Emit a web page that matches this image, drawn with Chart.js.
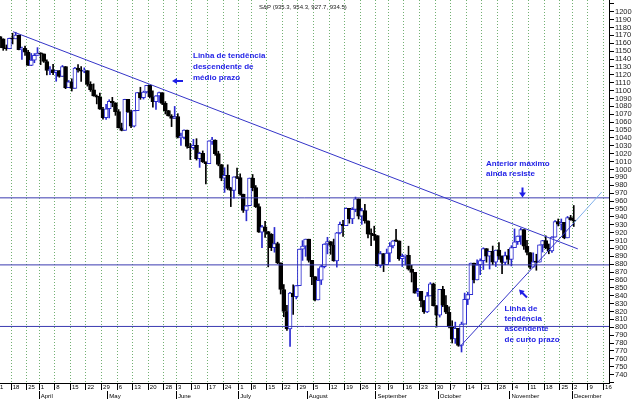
<!DOCTYPE html>
<html><head><meta charset="utf-8">
<script src="https://cdn.jsdelivr.net/npm/chart.js@4.4.1/dist/chart.umd.min.js"></script>
<style>html,body{margin:0;padding:0;background:#fff;}canvas{display:block;}</style>
</head><body>
<canvas id="c" width="634" height="399"></canvas>
<script>
// ---- DATA (S&P 500, daily, 2002) ----
const YEAR = 2002;
const days = [
'03-11','03-12','03-13','03-14','03-15','03-18','03-19','03-20','03-21','03-22','03-25','03-26','03-27','03-28',
'04-01','04-02','04-03','04-04','04-05','04-08','04-09','04-10','04-11','04-12','04-15','04-16','04-17','04-18','04-19','04-22','04-23','04-24','04-25','04-26','04-29','04-30',
'05-01','05-02','05-03','05-06','05-07','05-08','05-09','05-10','05-13','05-14','05-15','05-16','05-17','05-20','05-21','05-22','05-23','05-24','05-28','05-29','05-30','05-31',
'06-03','06-04','06-05','06-06','06-07','06-10','06-11','06-12','06-13','06-14','06-17','06-18','06-19','06-20','06-21','06-24','06-25','06-26','06-27','06-28',
'07-01','07-02','07-03','07-05','07-08','07-09','07-10','07-11','07-12','07-15','07-16','07-17','07-18','07-19','07-22','07-23','07-24','07-25','07-26','07-29','07-30','07-31',
'08-01','08-02','08-05','08-06','08-07','08-08','08-09','08-12','08-13','08-14','08-15','08-16','08-19','08-20','08-21','08-22','08-23','08-26','08-27','08-28','08-29','08-30',
'09-03','09-04','09-05','09-06','09-09','09-10','09-11','09-12','09-13','09-16','09-17','09-18','09-19','09-20','09-23','09-24','09-25','09-26','09-27','09-30',
'10-01','10-02','10-03','10-04','10-07','10-08','10-09','10-10','10-11','10-14','10-15','10-16','10-17','10-18','10-21','10-22','10-23','10-24','10-25','10-28','10-29','10-30','10-31',
'11-01','11-04','11-05','11-06','11-07','11-08','11-11','11-12','11-13','11-14','11-15','11-18','11-19','11-20','11-21','11-22','11-25','11-26','11-27','11-29',
'12-02'];

const open = [
1164.3,1168.3,1165.6,1154.1,1153.0,1166.2,1165.6,1170.3,1151.9,1153.6,1148.7,1131.9,1138.5,1144.6,
1147.4,1146.5,1136.8,1125.4,1126.3,1122.7,1125.3,1117.8,1130.5,1103.7,1111.0,1102.6,1128.4,1126.1,1124.5,1125.2,1107.8,1101.0,1093.1,1091.5,1076.3,1065.5,
1076.9,1086.5,1084.6,1073.4,1052.7,1049.5,1088.9,1073.0,1055.0,1074.6,1097.3,1091.1,1098.2,1106.6,1091.9,1086.0,1093.3,1097.3,1083.8,1074.6,1067.7,1064.7,
1067.1,1040.7,1040.7,1049.9,1029.1,1027.5,1030.7,1013.6,1020.3,1009.6,1007.3,1036.2,1037.1,1020.0,1006.3,989.1,992.7,976.1,973.5,990.6,
989.8,968.7,948.1,954.0,989.0,977.0,952.8,920.5,927.4,921.4,917.9,900.9,906.0,881.6,847.8,819.9,797.7,843.4,838.7,852.8,899.0,902.8,
911.6,884.7,864.2,834.6,859.6,876.8,905.5,908.6,903.8,884.2,919.6,930.3,928.8,950.7,937.4,949.4,962.7,940.9,948.0,934.8,917.9,917.8,
916.1,878.0,893.4,879.2,893.9,903.0,909.6,909.4,886.9,889.8,891.1,873.5,869.5,843.3,845.4,833.7,819.3,839.7,855.0,827.4,
815.3,847.9,827.9,819.0,800.6,785.3,798.6,776.8,803.9,835.3,841.4,881.3,860.0,879.2,884.4,899.7,890.2,896.1,882.5,897.7,890.2,882.2,890.7,
885.8,901.0,908.4,915.4,923.8,902.7,894.7,876.2,883.0,882.5,904.3,909.8,900.4,896.7,914.2,933.8,930.6,932.9,913.3,938.9,
935.3];

const high = [
1173.0,1168.3,1165.6,1157.8,1166.5,1172.7,1173.9,1170.3,1155.1,1156.5,1151.0,1147.0,1146.9,1154.4,
1148.0,1146.5,1138.9,1130.5,1133.3,1125.4,1125.3,1131.8,1130.5,1112.8,1114.9,1129.4,1133.0,1130.5,1128.8,1125.2,1111.2,1108.5,1094.4,1096.8,1078.9,1082.6,
1088.4,1091.4,1084.6,1075.9,1058.7,1089.0,1088.9,1075.4,1074.8,1097.7,1104.2,1099.3,1106.7,1106.6,1099.6,1093.6,1098.0,1097.3,1086.0,1074.8,1069.5,1079.9,
1070.7,1046.1,1050.1,1049.9,1033.0,1038.2,1039.0,1021.9,1023.5,1009.6,1036.3,1040.8,1037.6,1023.1,1006.3,1002.1,1005.9,977.4,990.7,1001.8,
994.5,968.7,954.3,989.1,993.6,979.6,956.3,929.2,934.3,921.4,918.7,926.5,907.8,881.6,854.1,827.7,844.3,853.8,852.9,899.1,909.8,911.7,
911.6,884.7,864.2,874.4,878.7,905.8,914.0,908.6,911.7,920.2,933.3,935.4,951.2,950.7,951.6,965.0,962.7,950.8,955.8,934.8,924.6,928.1,
916.1,896.1,893.4,899.1,907.3,909.9,924.0,909.4,892.8,891.8,902.7,878.5,869.5,849.3,845.4,833.7,844.2,856.6,856.0,827.4,
848.0,851.9,840.0,825.9,808.2,806.5,798.6,806.5,843.3,844.4,881.4,881.3,885.4,886.7,900.7,899.7,896.2,902.9,897.8,907.4,890.6,895.3,898.8,
903.4,924.6,915.8,925.7,923.8,910.1,894.7,894.3,892.5,904.4,910.1,915.9,905.5,915.0,935.1,937.2,937.2,932.9,940.4,941.8,
954.3];

const low = [
1159.6,1154.3,1151.0,1151.0,1153.0,1159.1,1165.6,1151.6,1139.5,1144.6,1131.8,1131.6,1135.3,1144.6,
1132.9,1135.7,1119.7,1120.1,1120.1,1111.8,1116.9,1117.8,1102.4,1103.7,1099.4,1102.6,1123.4,1111.6,1122.6,1105.6,1098.9,1092.8,1083.1,1076.2,1063.6,1063.5,
1065.3,1079.5,1068.6,1052.6,1048.9,1049.5,1072.2,1053.0,1053.9,1074.6,1088.9,1089.2,1096.8,1090.6,1079.1,1076.0,1085.1,1082.2,1070.3,1067.6,1054.3,1064.7,
1039.9,1030.5,1038.8,1026.9,1012.5,1025.5,1011.9,1002.6,1008.8,981.6,1007.3,1031.7,1017.9,1004.6,985.7,970.9,974.2,952.9,963.7,988.3,
967.4,945.5,934.9,954.0,972.9,951.7,920.3,900.9,913.7,876.5,897.1,895.1,880.6,842.1,813.3,796.1,775.7,816.1,835.9,852.8,884.7,889.9,
882.5,853.9,833.4,834.6,854.1,875.2,893.0,892.4,883.6,876.2,918.2,915.0,928.8,931.9,931.3,946.4,937.2,930.4,931.9,913.2,903.3,910.2,
877.5,875.7,870.5,879.2,882.9,900.5,908.5,884.8,877.0,878.9,872.4,857.4,843.1,839.1,825.8,817.4,818.5,839.7,826.8,800.2,
812.8,826.1,817.3,799.2,780.0,779.5,775.8,768.6,803.9,828.7,841.4,856.3,860.0,866.6,873.1,882.4,873.8,879.2,877.0,886.1,867.9,879.2,879.8,
877.7,901.0,904.9,905.0,898.7,891.6,874.0,876.2,872.2,882.5,895.3,899.5,893.1,894.9,914.2,928.4,923.3,912.1,913.3,935.6,
927.7];

const close = [
1168.3,1165.6,1154.1,1153.0,1166.2,1165.6,1170.3,1151.9,1153.6,1148.7,1131.9,1138.5,1144.6,1147.4,
1146.5,1136.8,1125.4,1126.3,1122.7,1125.3,1117.8,1130.5,1103.7,1111.0,1102.6,1128.4,1126.1,1124.5,1125.2,1107.8,1101.0,1093.1,1091.5,1076.3,1065.5,1076.9,
1086.5,1084.6,1073.4,1052.7,1049.5,1088.9,1073.0,1055.0,1074.6,1097.3,1091.1,1098.2,1106.6,1091.9,1086.0,1093.3,1097.3,1083.8,1074.6,1067.7,1064.7,1067.1,
1040.7,1040.7,1049.9,1029.1,1027.5,1030.7,1013.6,1020.3,1009.6,1007.3,1036.2,1037.1,1020.0,1006.3,989.1,992.7,976.1,973.5,990.6,989.8,
968.7,948.1,954.0,989.0,977.0,952.8,920.5,927.4,921.4,917.9,900.9,906.0,881.6,847.8,819.9,797.7,843.4,838.7,852.8,899.0,902.8,911.6,
884.7,864.2,834.6,859.6,876.8,905.5,908.6,903.8,884.2,919.6,930.3,928.8,950.7,937.4,949.4,962.7,940.9,948.0,934.8,917.9,917.8,916.1,
878.0,893.4,879.2,893.9,903.0,909.6,909.4,886.9,889.8,891.1,873.5,869.5,843.3,845.4,833.7,819.3,839.7,855.0,827.4,815.3,
847.9,827.9,819.0,800.6,785.3,798.6,776.8,803.9,835.3,841.4,881.3,860.0,879.2,884.4,899.7,890.2,896.1,882.5,897.7,890.2,882.2,890.7,885.8,
901.0,908.4,915.4,923.8,902.7,894.7,876.2,883.0,882.5,904.3,909.8,900.4,896.7,914.2,933.8,930.6,932.9,913.3,938.9,936.3,
934.5];

// Trend lines (x = trading-day index, y = index level)
const trendDown = [{x: 5.14, y: 1174.6}, {x: 186.3, y: 899.3}];
const trendUp = [{x: 148.5, y: 775.4}, {x: 185.0, y: 932.0}];
const trendUpExt = [{x: 185.0, y: 932.0}, {x: 193.95, y: 971.3}];
const levels = [964, 879, 801];

const monthNames = ['January','February','March','April','May','June','July','August','September','October','November','December'];
const titleText = 'S&P (935.3, 954.3, 927.7, 934.5)';

// ---- derived axis ticks ----
const dt = days.map(s => { const [m, d] = s.split('-').map(Number); return new Date(YEAR, m - 1, d); });
const future = [];
let f = new Date(dt[dt.length - 1]);
while (future.length < 12) { f = new Date(f.getFullYear(), f.getMonth(), f.getDate() + 1); if (f.getDay() % 6) future.push(f); }
const allDt = dt.concat(future);
const weekTicks = [], weekText = [], monthTicks = [], monthText = [];
allDt.forEach((d, i) => {
  const p = allDt[i - 1];
  if (!p || d.getDay() < p.getDay() || (d - p) > 6 * 864e5) { weekTicks.push(i - 0.5); weekText.push(String(d.getDate())); }
  if (p && d.getMonth() !== p.getMonth()) { monthTicks.push(i - 0.5); monthText.push(monthNames[d.getMonth()]); }
});
const yTicks = []; for (let v = 730; v <= 1210; v += 10) yTicks.push(v);

const X_MIN = 0.97, X_MAX = 196.3, Y_MIN = 729.3, Y_MAX = 1214.8;
const BLUE = '#2b2bd0', LINE = '#3434c8', LEVEL = '#3a3ab0', NOTE = '#1e1ee6';
const up = i => close[i] >= open[i];

Chart.defaults.font.family = '"Liberation Sans", Arial, sans-serif';

function arrow(ctx, x1, y1, x2, y2, head, hw, sw) {
  const a = Math.atan2(y2 - y1, x2 - x1), L = Math.hypot(x2 - x1, y2 - y1);
  ctx.save(); ctx.translate(x1, y1); ctx.rotate(a);
  ctx.fillRect(0, -sw / 2, L - head + 0.5, sw);
  ctx.beginPath(); ctx.moveTo(L, 0); ctx.lineTo(L - head, -hw); ctx.lineTo(L - head, hw); ctx.closePath(); ctx.fill();
  ctx.restore();
}

const notes = {
  id: 'notes',
  afterDraw(chart) {
    const ctx = chart.ctx;
    ctx.save();
    ctx.fillStyle = '#222';
    ctx.font = '6px "Liberation Sans", Arial, sans-serif';
    ctx.textBaseline = 'alphabetic';
    ctx.fillText(titleText, 259, 8.5);
    ctx.fillStyle = NOTE;
    ctx.font = 'bold 8px "Liberation Sans", Arial, sans-serif';
    const blocks = [
      {x: 193, y: 58.3, lh: 10.9, lines: ['Linha de tendência', 'descendente de', 'médio prazo']},
      {x: 486, y: 165.7, lh: 10.1, lines: ['Anterior máximo', 'ainda resiste']},
      {x: 504.5, y: 310.8, lh: 10.25, lines: ['Linha de', 'tendência', 'ascendente', 'de curto prazo']}
    ];
    blocks.forEach(b => b.lines.forEach((t, i) => ctx.fillText(t, b.x, b.y + i * b.lh)));
    arrow(ctx, 183, 81, 172, 81, 5, 3, 2);
    arrow(ctx, 522.5, 187.5, 522.5, 197.5, 5, 3.5, 2);
    arrow(ctx, 527, 297.5, 519, 289.5, 5, 3, 2);
    ctx.restore();
  }
};

const zeroPad = s => { s.paddingLeft = 0; s.paddingRight = 0; s.paddingTop = 0; s.paddingBottom = 0; };

const hline = v => ({type: 'line', data: [{x: X_MIN, y: v}, {x: X_MAX, y: v}], borderColor: LEVEL, borderWidth: 1, pointRadius: 0, xAxisID: 'x', yAxisID: 'y'});

new Chart(document.getElementById('c'), {
  type: 'bar',
  data: {
    datasets: [
      {type: 'line', data: trendDown, borderColor: LINE, borderWidth: 1, pointRadius: 0, xAxisID: 'x', yAxisID: 'y'},
      {type: 'line', data: trendUp, borderColor: LINE, borderWidth: 1, pointRadius: 0, xAxisID: 'x', yAxisID: 'y'},
      {type: 'line', data: trendUpExt, borderColor: '#7fb0ea', borderWidth: 1, pointRadius: 0, xAxisID: 'x', yAxisID: 'y'},
      ...levels.map(hline),
      {
        data: days.map((d, i) => ({x: i, y: [open[i], close[i]]})),
        backgroundColor: c => up(c.dataIndex) ? '#ffffff' : '#000000',
        borderColor: c => up(c.dataIndex) ? BLUE : '#000000',
        borderWidth: 1, borderSkipped: false, barThickness: 4, minBarLength: 1, grouped: false,
        xAxisID: 'x', yAxisID: 'y'
      },
      {
        data: days.map((d, i) => ({x: i, y: [low[i], high[i]]})),
        backgroundColor: c => up(c.dataIndex) ? BLUE : '#000000',
        borderWidth: 0, barThickness: 1, grouped: false,
        xAxisID: 'x', yAxisID: 'y'
      }
    ]
  },
  options: {
    responsive: false, animation: false, devicePixelRatio: 1,
    layout: {padding: 0},
    plugins: {legend: {display: false}, tooltip: {enabled: false}, title: {display: false}},
    scales: {
      x: {
        type: 'linear', position: 'bottom', min: X_MIN, max: X_MAX, offset: false, weight: 0,
        afterBuildTicks: s => { s.ticks = weekTicks.map(v => ({value: v})); },
        afterFit: s => { s.height = 8; zeroPad(s); },
        grid: {offset: false, color: '#72b072', drawOnChartArea: true, drawTicks: true, tickLength: 7, tickColor: '#000', tickBorderDash: []},
        border: {display: true, color: '#000', dash: [1, 2]},
        ticks: {autoSkip: false, maxRotation: 0, minRotation: 0, align: 'start', padding: -6, color: '#000',
          font: {size: 6, lineHeight: 1.2}, callback: (v, i) => ' ' + weekText[i]}
      },
      xm: {
        type: 'linear', position: 'bottom', min: X_MIN, max: X_MAX, offset: false, weight: 1,
        afterBuildTicks: s => { s.ticks = monthTicks.map(v => ({value: v})); },
        afterFit: s => { s.height = 8; zeroPad(s); },
        grid: {offset: false, drawOnChartArea: false, drawTicks: true, tickLength: 8, tickColor: '#000'},
        border: {display: false},
        ticks: {autoSkip: false, maxRotation: 0, minRotation: 0, align: 'start', padding: -6.6, color: '#000',
          font: {size: 6, lineHeight: 1.2}, callback: (v, i) => ' ' + monthText[i]}
      },
      y: {
        type: 'linear', position: 'right', min: Y_MIN, max: Y_MAX, beginAtZero: false,
        afterBuildTicks: s => { s.ticks = yTicks.map(v => ({value: v})); },
        afterFit: s => { s.width = 25; zeroPad(s); },
        grid: {drawOnChartArea: false, drawTicks: true, tickLength: 5, tickColor: '#000'},
        border: {display: true, color: '#000'},
        ticks: {autoSkip: false, padding: 1, color: '#222', font: {size: 7.5},
          callback: v => (v >= 740 && v <= 1200) ? String(v) : ''}
      }
    }
  },
  plugins: [notes]
});
</script>
</body></html>
